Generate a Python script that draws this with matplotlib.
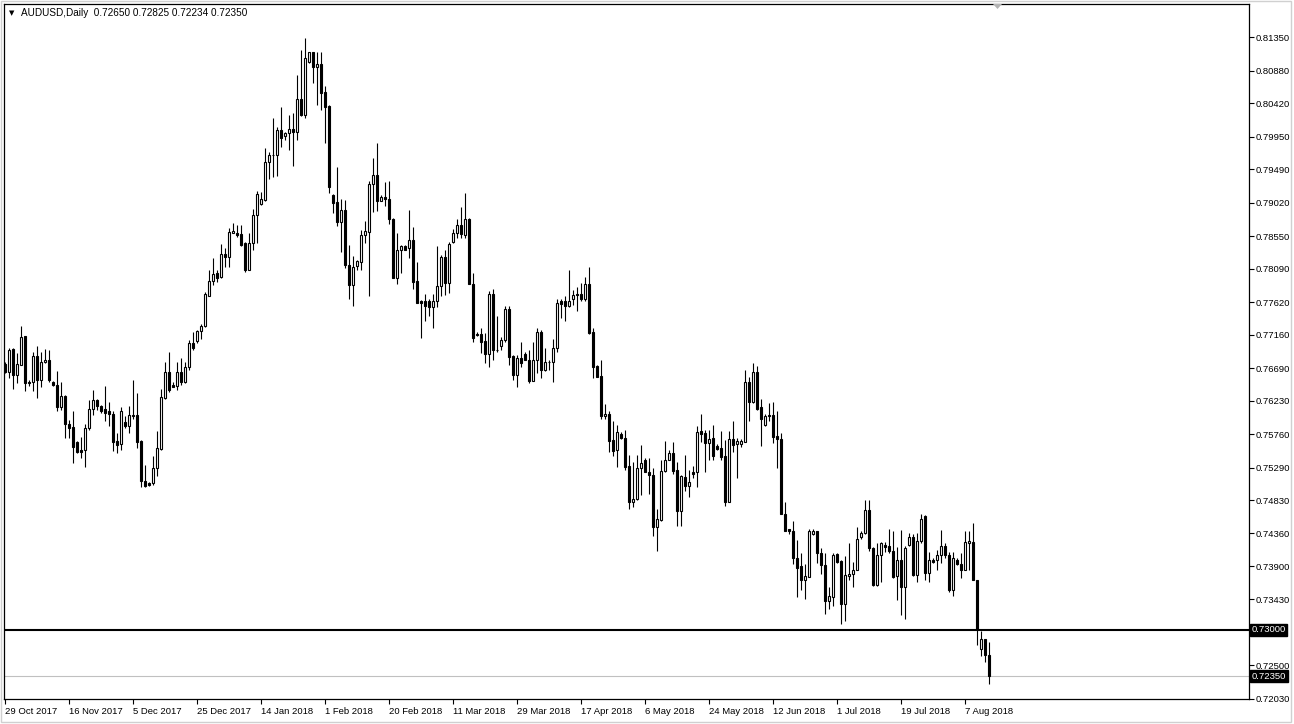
import numpy as np
import matplotlib
matplotlib.use("Agg")
import matplotlib.pyplot as plt
import matplotlib.transforms as mtransforms
from matplotlib.patches import Rectangle, Polygon

# AUDUSD daily candles, oldest first (open, high, low, close)
opens = [
    0.7675, 0.7664, 0.7696, 0.7659, 0.7674, 0.7714, 0.7650, 0.7650, 0.7686, 0.7652,
    0.7677, 0.7681, 0.7650, 0.7645, 0.7614, 0.7630, 0.7590, 0.7586, 0.7565, 0.7554,
    0.7554, 0.7584, 0.7612, 0.7624, 0.7616, 0.7611, 0.7608, 0.7605, 0.7566, 0.7562,
    0.7593, 0.7587, 0.7603, 0.7603, 0.7567, 0.7510, 0.7507, 0.7507, 0.7528, 0.7555,
    0.7627, 0.7664, 0.7645, 0.7644, 0.7663, 0.7650, 0.7670, 0.7704, 0.7707, 0.7722,
    0.7728, 0.7771, 0.7792, 0.7803, 0.7797, 0.7830, 0.7825, 0.7860, 0.7860, 0.7858,
    0.7845, 0.7808, 0.7845, 0.7885, 0.7900, 0.7906, 0.7959, 0.7969, 0.7969, 0.8005,
    0.7996, 0.8000, 0.8006, 0.8002, 0.8048, 0.8026, 0.8100, 0.8114, 0.8094, 0.8098,
    0.8058, 0.8038, 0.7913, 0.7903, 0.7875, 0.7892, 0.7815, 0.7786, 0.7813, 0.7819,
    0.7857, 0.7861, 0.7929, 0.7941, 0.7905, 0.7910, 0.7907, 0.7879, 0.7796, 0.7836,
    0.7841, 0.7838, 0.7850, 0.7792, 0.7763, 0.7763, 0.7763, 0.7755, 0.7763, 0.7785,
    0.7826, 0.7789, 0.7847, 0.7859, 0.7871, 0.7857, 0.7879, 0.7788, 0.7717, 0.7717,
    0.7707, 0.7689, 0.7773, 0.7695, 0.7700, 0.7708, 0.7753, 0.7686, 0.7659, 0.7684,
    0.7689, 0.7681, 0.7651, 0.7680, 0.7720, 0.7667, 0.7678, 0.7678, 0.7698, 0.7763,
    0.7763, 0.7756, 0.7766, 0.7774, 0.7774, 0.7766, 0.7788, 0.7720, 0.7672, 0.7658,
    0.7601, 0.7605, 0.7568, 0.7553, 0.7576, 0.7571, 0.7531, 0.7481, 0.7485, 0.7528,
    0.7540, 0.7523, 0.7518, 0.7445, 0.7455, 0.7524, 0.7540, 0.7549, 0.7525, 0.7467,
    0.7515, 0.7503, 0.7523, 0.7522, 0.7580, 0.7577, 0.7564, 0.7570, 0.7559, 0.7556,
    0.7545, 0.7481, 0.7569, 0.7562, 0.7562, 0.7565, 0.7650, 0.7622, 0.7663, 0.7614,
    0.7589, 0.7603, 0.7603, 0.7573, 0.7569, 0.7464, 0.7442, 0.7439, 0.7402, 0.7390,
    0.7371, 0.7375, 0.7435, 0.7439, 0.7409, 0.7391, 0.7341, 0.7346, 0.7407, 0.7397,
    0.7337, 0.7376, 0.7379, 0.7385, 0.7431, 0.7436, 0.7469, 0.7416, 0.7363, 0.7406,
    0.7420, 0.7418, 0.7412, 0.7376, 0.7399, 0.7361, 0.7420, 0.7431, 0.7377, 0.7425,
    0.7460, 0.7380, 0.7399, 0.7398, 0.7406, 0.7418, 0.7406, 0.7357, 0.7398, 0.7393,
    0.7385, 0.7423, 0.7424, 0.7371, 0.7273, 0.7287, 0.72650,
]
highs = [
    0.7677, 0.7698, 0.7697, 0.7690, 0.7729, 0.7714, 0.7653, 0.7692, 0.7700, 0.7692,
    0.7696, 0.7695, 0.7651, 0.7665, 0.7650, 0.7631, 0.7596, 0.7608, 0.7566, 0.7572,
    0.7590, 0.7624, 0.7638, 0.7626, 0.7617, 0.7644, 0.7622, 0.7609, 0.7577, 0.7614,
    0.7601, 0.7615, 0.7653, 0.7634, 0.7568, 0.7532, 0.7509, 0.7545, 0.7581, 0.7639,
    0.7678, 0.7692, 0.7649, 0.7677, 0.7683, 0.7677, 0.7708, 0.7720, 0.7723, 0.7731,
    0.7777, 0.7807, 0.7824, 0.7808, 0.7844, 0.7839, 0.7867, 0.7873, 0.7871, 0.7871,
    0.7847, 0.7860, 0.7894, 0.7918, 0.7917, 0.7979, 0.7974, 0.8021, 0.8009, 0.8037,
    0.8002, 0.8026, 0.8028, 0.8082, 0.8117, 0.8134, 0.8115, 0.8115, 0.8115, 0.8115,
    0.8066, 0.8040, 0.7915, 0.7953, 0.7908, 0.7906, 0.7842, 0.7827, 0.7821, 0.7864,
    0.7876, 0.7933, 0.7965, 0.7987, 0.7913, 0.7932, 0.7933, 0.7880, 0.7859, 0.7843,
    0.7843, 0.7892, 0.7868, 0.7819, 0.7765, 0.7773, 0.7767, 0.7774, 0.7841, 0.7828,
    0.7835, 0.7847, 0.7865, 0.7879, 0.7896, 0.7916, 0.7880, 0.7803, 0.7720, 0.7725,
    0.7718, 0.7778, 0.7780, 0.7742, 0.7713, 0.7757, 0.7757, 0.7687, 0.7687, 0.7706,
    0.7692, 0.7695, 0.7706, 0.7725, 0.7723, 0.7698, 0.7680, 0.7710, 0.7767, 0.7766,
    0.7771, 0.7808, 0.7779, 0.7783, 0.7789, 0.7797, 0.7811, 0.7725, 0.7673, 0.7681,
    0.7619, 0.7608, 0.7595, 0.7589, 0.7579, 0.7582, 0.7547, 0.7537, 0.7547, 0.7561,
    0.7542, 0.7542, 0.7528, 0.7471, 0.7539, 0.7567, 0.7554, 0.7565, 0.7537, 0.7518,
    0.7547, 0.7526, 0.7531, 0.7587, 0.7604, 0.7582, 0.7582, 0.7589, 0.7562, 0.7581,
    0.7568, 0.7581, 0.7594, 0.7571, 0.7569, 0.7666, 0.7657, 0.7676, 0.7672, 0.7626,
    0.7604, 0.7620, 0.7622, 0.7609, 0.7578, 0.7481, 0.7442, 0.7454, 0.7427, 0.7409,
    0.7393, 0.7443, 0.7443, 0.7439, 0.7415, 0.7409, 0.7361, 0.7409, 0.7408, 0.7399,
    0.7404, 0.7423, 0.7396, 0.7445, 0.7439, 0.7483, 0.7483, 0.7417, 0.7423, 0.7424,
    0.7424, 0.7443, 0.7439, 0.7417, 0.7441, 0.7418, 0.7436, 0.7435, 0.7436, 0.7463,
    0.7462, 0.7410, 0.7401, 0.7413, 0.7441, 0.7423, 0.7410, 0.7410, 0.7401, 0.7409,
    0.7439, 0.7439, 0.7451, 0.7371, 0.7298, 0.7288, 0.72825,
]
lows = [
    0.7662, 0.7655, 0.7639, 0.7648, 0.7674, 0.7637, 0.7644, 0.7637, 0.7627, 0.7643,
    0.7676, 0.7650, 0.7644, 0.7608, 0.7610, 0.7571, 0.7570, 0.7535, 0.7549, 0.7542,
    0.7530, 0.7582, 0.7603, 0.7610, 0.7606, 0.7594, 0.7587, 0.7552, 0.7550, 0.7554,
    0.7584, 0.7578, 0.7597, 0.7557, 0.7502, 0.7501, 0.7503, 0.7504, 0.7517, 0.7553,
    0.7626, 0.7636, 0.7642, 0.7638, 0.7645, 0.7648, 0.7666, 0.7695, 0.7705, 0.7710,
    0.7727, 0.7771, 0.7786, 0.7790, 0.7796, 0.7812, 0.7812, 0.7859, 0.7854, 0.7841,
    0.7805, 0.7807, 0.7835, 0.7846, 0.7899, 0.7905, 0.7935, 0.7939, 0.7940, 0.7980,
    0.7991, 0.7977, 0.7954, 0.7991, 0.8024, 0.8022, 0.8099, 0.8071, 0.8040, 0.8033,
    0.7986, 0.7916, 0.7888, 0.7869, 0.7833, 0.7810, 0.7766, 0.7757, 0.7808, 0.7808,
    0.7845, 0.7771, 0.7889, 0.7890, 0.7904, 0.7897, 0.7872, 0.7796, 0.7788, 0.7803,
    0.7835, 0.7824, 0.7781, 0.7761, 0.7711, 0.7736, 0.7742, 0.7725, 0.7755, 0.7771,
    0.7772, 0.7775, 0.7845, 0.7853, 0.7853, 0.7853, 0.7788, 0.7706, 0.7714, 0.7691,
    0.7676, 0.7671, 0.7680, 0.7692, 0.7694, 0.7706, 0.7673, 0.7652, 0.7642, 0.7671,
    0.7680, 0.7648, 0.7651, 0.7662, 0.7655, 0.7665, 0.7667, 0.7650, 0.7692, 0.7739,
    0.7736, 0.7755, 0.7758, 0.7750, 0.7763, 0.7763, 0.7717, 0.7655, 0.7656, 0.7598,
    0.7598, 0.7551, 0.7545, 0.7530, 0.7569, 0.7525, 0.7471, 0.7474, 0.7483, 0.7490,
    0.7522, 0.7492, 0.7432, 0.7412, 0.7454, 0.7522, 0.7539, 0.7520, 0.7447, 0.7446,
    0.7496, 0.7487, 0.7514, 0.7502, 0.7565, 0.7522, 0.7539, 0.7540, 0.7553, 0.7539,
    0.7475, 0.7481, 0.7551, 0.7514, 0.7558, 0.7565, 0.7594, 0.7620, 0.7610, 0.7559,
    0.7588, 0.7594, 0.7564, 0.7528, 0.7464, 0.7439, 0.7435, 0.7393, 0.7346, 0.7357,
    0.7344, 0.7375, 0.7434, 0.7395, 0.7379, 0.7323, 0.7329, 0.7334, 0.7395, 0.7309,
    0.7313, 0.7371, 0.7360, 0.7384, 0.7428, 0.7435, 0.7412, 0.7362, 0.7362, 0.7367,
    0.7410, 0.7409, 0.7373, 0.7342, 0.7321, 0.7316, 0.7418, 0.7376, 0.7368, 0.7423,
    0.7370, 0.7368, 0.7395, 0.7385, 0.7394, 0.7401, 0.7354, 0.7348, 0.7392, 0.7373,
    0.7384, 0.7385, 0.7370, 0.7279, 0.7263, 0.7255, 0.72234,
]
closes = [
    0.7663, 0.7695, 0.7659, 0.7675, 0.7713, 0.7648, 0.7648, 0.7686, 0.7652, 0.7678,
    0.7681, 0.7652, 0.7645, 0.7614, 0.7630, 0.7590, 0.7585, 0.7558, 0.7551, 0.7551,
    0.7584, 0.7612, 0.7624, 0.7615, 0.7609, 0.7606, 0.7605, 0.7565, 0.7561, 0.7609,
    0.7587, 0.7603, 0.7602, 0.7565, 0.7510, 0.7503, 0.7504, 0.7528, 0.7556, 0.7628,
    0.7664, 0.7638, 0.7643, 0.7663, 0.7650, 0.7670, 0.7704, 0.7697, 0.7722, 0.7728,
    0.7773, 0.7792, 0.7802, 0.7796, 0.7830, 0.7825, 0.7861, 0.7863, 0.7857, 0.7843,
    0.7808, 0.7845, 0.7885, 0.7915, 0.7907, 0.7959, 0.7970, 0.7970, 0.8005, 0.7993,
    0.8000, 0.8006, 0.8002, 0.8048, 0.8026, 0.8106, 0.8115, 0.8094, 0.8098, 0.8057,
    0.8037, 0.7925, 0.7902, 0.7875, 0.7892, 0.7814, 0.7786, 0.7811, 0.7820, 0.7857,
    0.7862, 0.7929, 0.7941, 0.7905, 0.7910, 0.7907, 0.7879, 0.7796, 0.7836, 0.7841,
    0.7836, 0.7850, 0.7791, 0.7761, 0.7761, 0.7756, 0.7755, 0.7763, 0.7785, 0.7826,
    0.7789, 0.7844, 0.7860, 0.7871, 0.7858, 0.7879, 0.7788, 0.7712, 0.7716, 0.7706,
    0.7689, 0.7773, 0.7694, 0.7694, 0.7709, 0.7753, 0.7685, 0.7659, 0.7684, 0.7676,
    0.7681, 0.7651, 0.7680, 0.7720, 0.7667, 0.7677, 0.7678, 0.7698, 0.7761, 0.7759,
    0.7756, 0.7763, 0.7772, 0.7772, 0.7766, 0.7788, 0.7719, 0.7671, 0.7657, 0.7601,
    0.7605, 0.7567, 0.7552, 0.7579, 0.7570, 0.7530, 0.7481, 0.7485, 0.7528, 0.7535,
    0.7522, 0.7518, 0.7445, 0.7456, 0.7524, 0.7540, 0.7549, 0.7524, 0.7467, 0.7517,
    0.7503, 0.7509, 0.7520, 0.7579, 0.7576, 0.7564, 0.7569, 0.7545, 0.7555, 0.7544,
    0.7481, 0.7569, 0.7561, 0.7566, 0.7566, 0.7650, 0.7622, 0.7663, 0.7612, 0.7598,
    0.7602, 0.7601, 0.7572, 0.7569, 0.7464, 0.7440, 0.7440, 0.7402, 0.7388, 0.7371,
    0.7376, 0.7439, 0.7439, 0.7408, 0.7391, 0.7341, 0.7348, 0.7406, 0.7396, 0.7337,
    0.7377, 0.7379, 0.7385, 0.7428, 0.7436, 0.7469, 0.7415, 0.7363, 0.7406, 0.7422,
    0.7417, 0.7412, 0.7375, 0.7399, 0.7361, 0.7416, 0.7431, 0.7377, 0.7426, 0.7457,
    0.7380, 0.7399, 0.7396, 0.7406, 0.7418, 0.7406, 0.7357, 0.7402, 0.7393, 0.7385,
    0.7424, 0.7426, 0.7371, 0.7301, 0.7287, 0.7265, 0.72350,
]

date_labels = ["29 Oct 2017", "16 Nov 2017", "5 Dec 2017", "25 Dec 2017",
               "14 Jan 2018", "1 Feb 2018", "20 Feb 2018", "11 Mar 2018",
               "29 Mar 2018", "17 Apr 2018", "6 May 2018", "24 May 2018",
               "12 Jun 2018", "1 Jul 2018", "19 Jul 2018", "7 Aug 2018"]
date_bars = [0, 16, 32, 48, 64, 80, 96, 112, 128, 144, 160, 176, 192, 208, 224, 240]

# the 0.72960 step sits under the 0.73000 tag, so it is left out
price_ticks = [0.72030, 0.72500, 0.73430, 0.73900, 0.74360, 0.74830,
               0.75290, 0.75760, 0.76230, 0.76690, 0.77160, 0.77620, 0.78090,
               0.78550, 0.79020, 0.79490, 0.79950, 0.80420, 0.80880, 0.81350]

level_line = 0.73000
symbol = "AUDUSD,Daily"

o = np.array(opens)
h = np.array(highs)
l = np.array(lows)
c = np.array(closes)
x = np.arange(len(o))

W, H = 1294, 724
fig = plt.figure(figsize=(W / 100, H / 100), dpi=100)
fig.patch.set_facecolor("white")
plt.rcParams['font.family'] = ['Liberation Sans', 'DejaVu Sans']
fs = 6.8

# chart frame from x=4..1249, y=4..699 px
ax = fig.add_axes([4 / W, (H - 699) / H, (1249 - 4) / W, (699 - 4) / H])
ax.set_facecolor("white")
ax.set_xlim(-0.325, 310.9)
ax.set_ylim(0.720276, 0.81822)

# wicks then bodies
ax.vlines(x, l, h, color="black", lw=0.8, zorder=2)
up = c >= o
ax.bar(x[up], c[up] - o[up], bottom=o[up], width=0.5, color="white",
       edgecolor="black", lw=0.8, zorder=3)
ax.bar(x[~up], c[~up] - o[~up], bottom=o[~up], width=0.5, color="black",
       edgecolor="black", lw=0.8, zorder=3)

# horizontal level and current price line
ax.axhline(level_line, color="black", lw=1.5, zorder=4)
ax.axhline(c[-1], color="#c0c0c0", lw=0.8, zorder=1)

for s in ax.spines.values():
    s.set_color("black")
    s.set_linewidth(0.9)

ax.yaxis.tick_right()
ax.set_yticks(price_ticks)
ax.set_yticklabels(["%.5f" % v for v in price_ticks])
ax.set_xticks(date_bars)
ax.set_xticklabels(date_labels)
for lab in ax.get_xticklabels():
    lab.set_horizontalalignment("left")
ax.tick_params(axis="both", direction="out", length=3.5, width=0.8,
               labelsize=fs, colors="black")
ax.tick_params(axis="y", pad=1.5)
ax.tick_params(axis="x", pad=2)

# black price tags on the axis
tag_tr = mtransforms.blended_transform_factory(ax.transAxes, ax.transData)
for val in [level_line, c[-1]]:
    ax.text(1.0022, val, "%.5f" % val, transform=tag_tr, color="white",
            fontsize=fs, va="center", ha="left", zorder=10, clip_on=False,
            bbox=dict(boxstyle="square,pad=0.15", fc="black", ec="black"))

# header text
fig.text(9 / W, 1 - 13 / H, "\u25bc", fontsize=5, va="center", ha="left",
         family="DejaVu Sans")
fig.text(21 / W, 1 - 13 / H,
         "%s  %.5f %.5f %.5f %.5f" % (symbol, o[-1], h[-1], l[-1], c[-1]),
         fontsize=7.2, va="center", ha="left")

# chart shift marker at top
fig.patches.append(Polygon([[993 / W, 1 - 4 / H], [1002 / W, 1 - 4 / H],
                            [997.5 / W, 1 - 9 / H]], closed=True,
                           transform=fig.transFigure, fc="#b4b4b4",
                           ec="none"))
# window border
fig.patches.append(Rectangle((1 / W, 2 / H), 1290 / W, 721 / H,
                             transform=fig.transFigure, fill=False,
                             ec="#d0d0d0", lw=1))

fig.savefig("out.png", dpi=100)
